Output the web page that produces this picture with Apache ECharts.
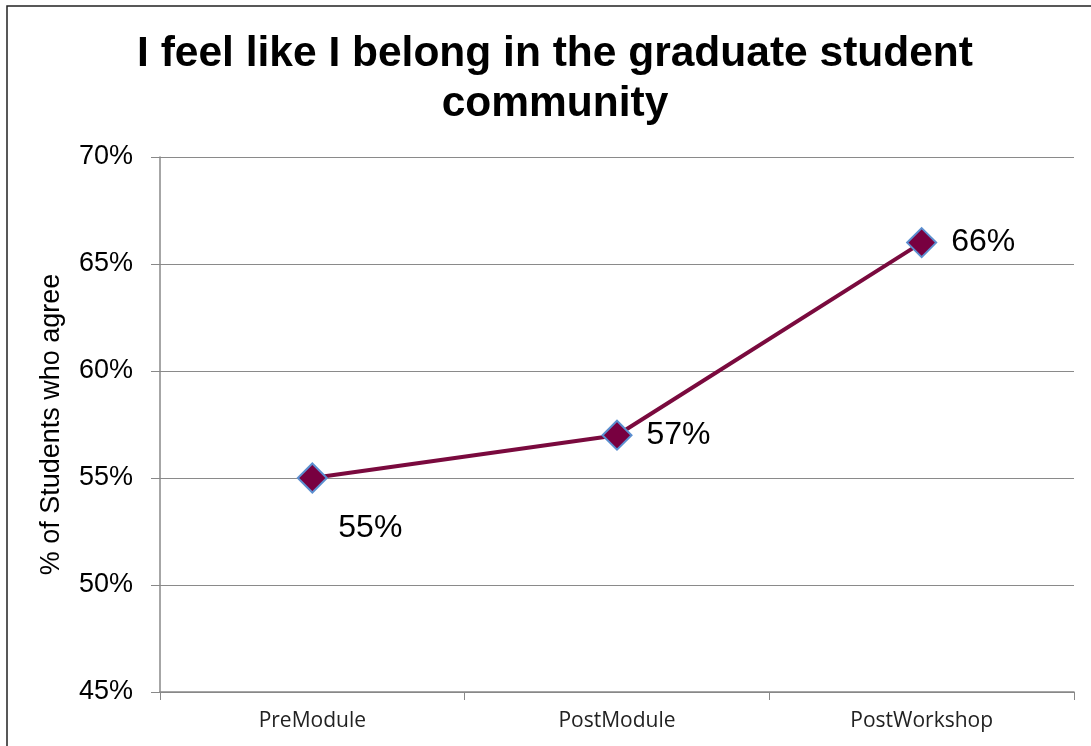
<!DOCTYPE html>
<html><head><meta charset="utf-8">
<script src="https://cdn.jsdelivr.net/npm/echarts@6/dist/echarts.min.js"></script>
<style>html,body{margin:0;padding:0;background:#fff}#c{width:1091px;height:746px}</style>
</head><body><div id="c"></div>
<script>
const titleText = "I feel like I belong in the graduate student\ncommunity";
const categories = ["PreModule", "PostModule", "PostWorkshop"];
const values = [55, 57, 66];
const yTicks = { min: 45, max: 70, interval: 5 };
const yAxisName = "% of Students who agree";

const chart = echarts.init(document.getElementById('c'));
chart.setOption({
  animation: false,
  backgroundColor: '#fff',
  graphic: [{ type: 'rect', shape: { x: 7, y: 6, width: 1120, height: 780 },
    style: { fill: 'none', stroke: '#222', lineWidth: 1.5 }, silent: true }],
  title: { text: titleText, left: 550, textAlign: 'center', top: 24,
    textStyle: { fontFamily: 'Liberation Sans', fontWeight: 'bold', fontSize: 42.5, lineHeight: 50, color: '#000' } },
  grid: { left: 160, right: 17, top: 157, bottom: 54 },
  xAxis: { type: 'category', data: categories, boundaryGap: true,
    axisLine: { lineStyle: { color: '#888', width: 1.5 } },
    axisTick: { show: true, length: 8, alignWithLabel: false, lineStyle: { color: '#888' } },
    axisLabel: { fontFamily: 'Open Sans', fontSize: 21, color: '#222', margin: 19 } },
  yAxis: { type: 'value', min: yTicks.min, max: yTicks.max, interval: yTicks.interval,
    name: yAxisName, nameLocation: 'middle', nameGap: 95, nameRotate: 90,
    nameTextStyle: { fontFamily: 'Liberation Sans', fontSize: 27, color: '#000' },
    axisLine: { show: true, lineStyle: { color: '#888', width: 1.5 } },
    axisTick: { show: true, length: 9, lineStyle: { color: '#888' } },
    splitLine: { lineStyle: { color: '#8a8a8a', width: 1.2 } },
    axisLabel: { formatter: v => v + '%', fontFamily: 'Liberation Sans', fontSize: 27, color: '#000', margin: 27 } },
  series: [{
    type: 'line', data: values.map((v, i) => ({ value: v,
      label: i === 0 ? { position: 'bottom', offset: [58, 14] } : { position: 'right', distance: 14 } })),
    symbol: 'diamond', symbolSize: 29,
    lineStyle: { color: '#7a0a3e', width: 4 },
    itemStyle: { color: '#780040', borderColor: '#5b8fd0', borderWidth: 2 },
    label: { show: true, formatter: p => p.value + '%', fontFamily: 'Liberation Sans', fontSize: 32, color: '#000' }
  }]
});
</script></body></html>
